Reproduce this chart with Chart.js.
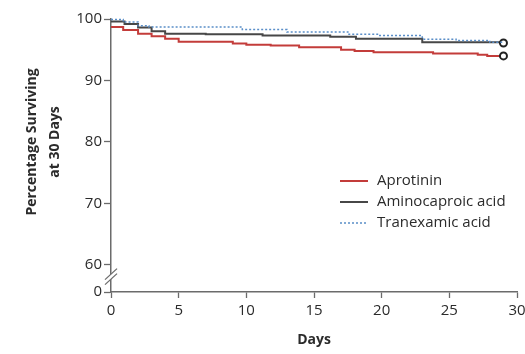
<!DOCTYPE html>
<html>
<head>
<meta charset="utf-8">
<script src="https://cdn.jsdelivr.net/npm/chart.js@4.4.1/dist/chart.umd.min.js"></script>
<style>
  html, body { margin: 0; padding: 0; background: #fff; }
  #wrap { width: 525px; height: 354px; }
</style>
</head>
<body>
<div id="wrap"><canvas id="myChart"></canvas></div>
<script>
// Kaplan-Meier style survival, % alive by day (value after each step)
const seriesNames = ['Aprotinin', 'Aminocaproic acid', 'Tranexamic acid'];

const aprotininDays = [0, 0.9, 2, 3, 4, 5, 9, 10, 11.8, 13.9, 17, 18, 19.4, 23.8, 27.1, 27.8, 29];
const aprotininPct  = [98.7, 98.2, 97.6, 97.2, 96.8, 96.3, 96.0, 95.8, 95.7, 95.4, 95.0, 94.8, 94.6, 94.4, 94.2, 94.0, 94.0];

const aminoDays = [0, 1, 2, 3, 4, 7, 11.2, 16.2, 18.1, 23, 29];
const aminoPct  = [99.6, 99.2, 98.6, 98.0, 97.6, 97.5, 97.3, 97.1, 96.8, 96.2, 96.1];

const tranexDays = [0, 0.9, 2, 2.8, 9.7, 13, 17.5, 19.8, 23, 25.5, 28, 29];
const tranexPct  = [99.9, 99.5, 98.9, 98.7, 98.3, 97.9, 97.5, 97.3, 96.7, 96.5, 96.2, 96.2];

const xTicks = [0, 5, 10, 15, 20, 25, 30];
// the axis is broken between 0 and 60; "0" sits just under 60
const yTickValues = [55.6, 60, 70, 80, 90, 100];
const yTickLabels = ['0', '60', '70', '80', '90', '100'];

const FONT = '"Open Sans"';
const TEXT = '#2b2b2b';
const AXIS = '#6b6b6b';

function toPoints(days, pct) {
  return days.map((d, i) => ({ x: d, y: pct[i] }));
}
function endMarker(ctx) {
  return ctx.dataIndex === ctx.dataset.data.length - 1 ? 3.5 : 0;
}

// legend, y title and axis break drawn by hand
const extras = {
  id: 'extras',
  afterDraw(chart) {
    const c = chart.ctx;
    const y = chart.scales.y;
    const ax = chart.chartArea.left;

    // axis break //
    const by = y.getPixelForValue(58.1);
    c.save();
    c.fillStyle = '#fff';
    c.beginPath();
    c.moveTo(ax - 6, by + 3);
    c.lineTo(ax + 6, by - 8);
    c.lineTo(ax + 6, by - 3);
    c.lineTo(ax - 6, by + 8);
    c.closePath();
    c.fill();
    c.strokeStyle = AXIS;
    c.lineWidth = 1.3;
    [0, 5].forEach(off => {
      c.beginPath();
      c.moveTo(ax - 6, by + 3 + off);
      c.lineTo(ax + 6, by - 8 + off);
      c.stroke();
    });
    c.restore();

    // y title, centred on the 60-100 part
    const cy = (y.getPixelForValue(60) + y.getPixelForValue(100)) / 2;
    c.save();
    c.translate(32, cy);
    c.rotate(-Math.PI / 2);
    c.fillStyle = TEXT;
    c.font = 'bold 14px ' + FONT;
    c.textAlign = 'center';
    c.textBaseline = 'middle';
    c.fillText('Percentage Surviving', 0, 0);
    c.fillText('at 30 Days', 0, 23);
    c.restore();

    // legend
    const rows = [181, 202, 223];
    c.save();
    c.font = '15px ' + FONT;
    c.textBaseline = 'middle';
    chart.data.datasets.forEach((ds, i) => {
      const ry = rows[i];
      c.strokeStyle = ds.borderColor;
      c.lineWidth = ds.borderWidth;
      c.setLineDash(ds.borderDash || []);
      c.beginPath();
      c.moveTo(340, ry);
      c.lineTo(368, ry);
      c.stroke();
      c.setLineDash([]);
      c.fillStyle = TEXT;
      c.fillText(ds.label, 377, ry);
    });
    c.restore();
  }
};

const ctx = document.getElementById('myChart');

new Chart(ctx, {
  type: 'line',
  data: {
    datasets: [
      {
        label: seriesNames[0],
        data: toPoints(aprotininDays, aprotininPct),
        borderColor: '#c33c3a',
        borderWidth: 2,
        stepped: true,
        order: 2,
        pointRadius: endMarker,
        pointBackgroundColor: '#fff',
        pointBorderColor: '#222',
        pointBorderWidth: 2,
        clip: false
      },
      {
        label: seriesNames[1],
        data: toPoints(aminoDays, aminoPct),
        borderColor: '#474747',
        borderWidth: 2,
        stepped: true,
        order: 1,
        pointRadius: endMarker,
        pointBackgroundColor: '#fff',
        pointBorderColor: '#222',
        pointBorderWidth: 2,
        clip: false
      },
      {
        label: seriesNames[2],
        data: toPoints(tranexDays, tranexPct),
        borderColor: '#5a8ec8',
        borderWidth: 1.5,
        borderDash: [2, 2],
        stepped: true,
        order: 0,
        pointRadius: 0,
        clip: false
      }
    ]
  },
  options: {
    responsive: true,
    maintainAspectRatio: false,
    animation: false,
    layout: { padding: { top: 19, right: 0, left: 0, bottom: 0 } },
    plugins: {
      legend: { display: false },
      tooltip: { enabled: false }
    },
    scales: {
      x: {
        type: 'linear',
        min: 0,
        max: 30,
        afterBuildTicks: s => { s.ticks = xTicks.map(v => ({ value: v })); },
        afterFit: s => { s.height = 62; s.paddingRight = 8; s.paddingLeft = 0; },
        ticks: { color: TEXT, font: { family: FONT, size: 15 }, padding: 4, maxRotation: 0 },
        grid: { drawOnChartArea: false, tickLength: 6, color: AXIS, tickWidth: 1.3 },
        border: { color: AXIS, width: 1.5 },
        title: {
          display: true,
          text: 'Days',
          color: TEXT,
          font: { family: FONT, size: 14, weight: 'bold' },
          padding: { top: 0, bottom: 6 }
        }
      },
      y: {
        min: yTickValues[0],
        max: 100,
        afterBuildTicks: s => { s.ticks = yTickValues.map(v => ({ value: v })); },
        afterFit: s => { s.width = 111; },
        ticks: {
          color: TEXT,
          font: { family: FONT, size: 15 },
          padding: 2,
          callback: v => yTickLabels[yTickValues.indexOf(v)]
        },
        grid: { drawOnChartArea: false, tickLength: 7, color: AXIS, tickWidth: 1.3 },
        border: { color: AXIS, width: 1.5 }
      }
    }
  },
  plugins: [extras]
});
</script>
</body>
</html>
